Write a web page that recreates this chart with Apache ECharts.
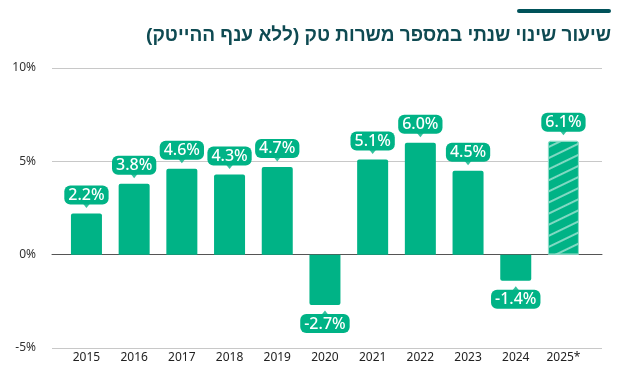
<!DOCTYPE html>
<html><head><meta charset="utf-8">
<script src="https://cdn.jsdelivr.net/npm/echarts@6/dist/echarts.min.js"></script>
<style>html,body{margin:0;padding:0;background:#fff}#c{width:622px;height:376px}</style>
</head><body><div id="c"></div>
<script>
const categories = ['2015','2016','2017','2018','2019','2020','2021','2022','2023','2024','2025*'];
const values = [2.2, 3.8, 4.6, 4.3, 4.7, -2.7, 5.1, 6.0, 4.5, -1.4, 6.1];
const projectedIndex = 10;
const yTicks = [-5, 0, 5, 10];
const titleText = 'שיעור שינוי שנתי במספר משרות טק (ללא ענף ההייטק)';

const GREEN = '#00b386';
const chart = echarts.init(document.getElementById('c'), null, {renderer:'canvas'});
const yMin = yTicks[0], yMax = yTicks[yTicks.length-1], yStep = yTicks[1]-yTicks[0];

const barData = values.map((v,i) => {
  const d = {
    value: v,
    itemStyle: {borderRadius: v >= 0 ? [2,2,0,0] : [0,0,2,2]},
    label: {position: v >= 0 ? 'top' : 'bottom'}
  };
  if (i === projectedIndex) {
    d.itemStyle.decal = {
      symbol: 'rect', symbolSize: 1,
      dashArrayX: [[8, 0]], dashArrayY: [1.5, 8],
      rotation: -0.45,
      color: 'rgba(255,255,255,0.5)'
    };
    d.itemStyle.borderColor = '#8fdcc8';
    d.itemStyle.borderWidth = 1;
  }
  return d;
});
const pointerData = values.map(v => ({
  value: v,
  symbolRotate: v >= 0 ? 180 : 0,
  symbolOffset: [0, v >= 0 ? -8 : 8]
}));

chart.setOption({
  animation: false,
  graphic: [
    {type:'rect', shape:{x:517, y:9, width:94, height:4, r:2}, style:{fill:'#00525a'}},
    {type:'text', right: 11, top: 26, style:{text:titleText, font:'bold 19px "Liberation Sans", "DejaVu Sans", sans-serif', fill:'#0e4a52', textAlign:'right'}}
  ],
  grid: [
    {left: 52, right: 20, top: 68, height: 280},
    {left: 62.6, right: 34.7, top: 68, height: 280}
  ],
  xAxis: [
    {gridIndex:0, type:'category', data:[''], axisLine:{onZero:true, lineStyle:{color:'#555', width:1}}, axisTick:{show:false}, axisLabel:{show:false}},
    {gridIndex:1, type:'category', data:categories, position:'bottom', axisLine:{show:false, onZero:false}, axisTick:{show:false},
     axisLabel:{color:'#222', fontSize:12, fontFamily:'"Noto Sans", sans-serif', margin:4}}
  ],
  yAxis: [
    {gridIndex:0, type:'value', min:yMin, max:yMax, interval:yStep,
     axisLabel:{formatter: v => v + '%', color:'#333', fontSize:12, fontFamily:'"Noto Sans", sans-serif', margin:16},
     splitLine:{lineStyle:{color:'#c8c8c8', width:1}}, axisLine:{show:false}, axisTick:{show:false}},
    {gridIndex:1, type:'value', min:yMin, max:yMax, interval:yStep, show:false, splitLine:{show:false}}
  ],
  series: [
    {type:'bar', xAxisIndex:1, yAxisIndex:1, data:barData, barWidth:31, itemStyle:{color:GREEN},
     label:{show:true, distance:9, formatter: p => p.value.toFixed(1) + '%', color:'#fff', backgroundColor:GREEN,
       borderRadius:6, padding:[2,4,1,4], fontSize:16, fontWeight:500, fontFamily:'"Noto Sans", sans-serif'}},
    {type:'scatter', xAxisIndex:1, yAxisIndex:1, data:pointerData, symbol:'triangle', symbolSize:[8,5],
     itemStyle:{color:GREEN}, silent:true, z:5}
  ]
});
</script></body></html>
